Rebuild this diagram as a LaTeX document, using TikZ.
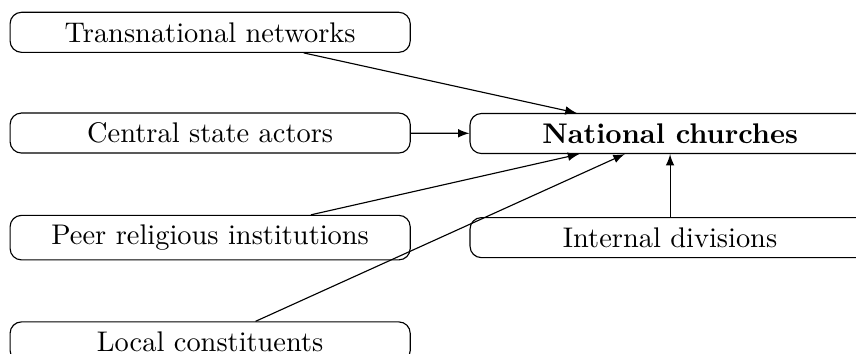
\documentclass[tikz,border=0pt]{standalone}
\usepackage{tikz}

\begin{document}
\begin{tikzpicture}[>=latex,
    box/.style={draw,rounded corners,minimum width=4.95cm,minimum height=0.495cm}]
        \def\lx{2.6}
        \def\rx{8.29}

        % 描画範囲
        \useasboundingbox (0,0) rectangle (10.59,-4.37);
        \clip (0,0) rectangle (10.59,-4.37);

        % --- 左の列 ---
        \node[box] (trans) at (\lx,-0.40) {Transnational networks};
        \node[box] (state) at (\lx,-1.646) {Central state actors};
        \node[box] (peer) at (\lx,-2.94) {Peer religious institutions};
        \node[box] (local) at (\lx,-4.23) {Local constituents};

        % --- 右の列 ---
        \node[box] (church) at (\rx,-1.652) {\textbf{National churches}};
        \node[box] (intern) at (\rx,-2.94) {Internal divisions};

        % 矢印
        \draw[->] (trans)--(church);
        \draw[->] (state)--(church);
        \draw[->] (peer)--(church);
        \draw[->] (local)--(church);
        \draw[->] (intern)--(church);
      \end{tikzpicture}
\end{document}
